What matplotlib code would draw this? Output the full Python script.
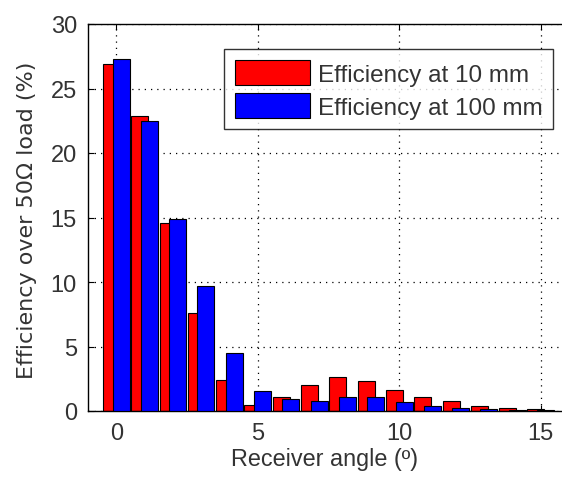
import numpy as np
import matplotlib
matplotlib.use('Agg')
import matplotlib.pyplot as plt

# receiver angle (deg) and efficiency (%)
angle = [0, 1, 2, 3, 4, 5, 6, 7, 8, 9, 10, 11, 12, 13, 14, 15]
eff_10mm = [26.9, 22.9, 14.6, 7.6, 2.4, 0.45, 1.1, 2.0, 2.6, 2.3, 1.6, 1.1, 0.8, 0.35, 0.2, 0.15]
eff_100mm = [27.3, 22.5, 14.9, 9.7, 4.5, 1.55, 0.95, 0.8, 1.1, 1.1, 0.7, 0.35, 0.2, 0.15, 0.1, 0.1]

plt.rcParams['font.family'] = ['Liberation Sans', 'DejaVu Sans']
txt = '#333333'

fig = plt.figure(figsize=(5.62, 4.81), dpi=100)
ax = fig.add_axes([88/562, 1-412/481, (569-88)/562, (412-25)/481])

x = np.array(angle)
ax.bar(x-0.17, eff_10mm, width=0.6, color='#ff0000', edgecolor='black', linewidth=0.8,
       label='Efficiency at 10 mm', zorder=2)
ax.bar(x+0.17, eff_100mm, width=0.6, color='#0000ff', edgecolor='black', linewidth=0.8,
       label='Efficiency at 100 mm', zorder=3)

ax.set_xlim(-1, 16)
ax.set_ylim(0, 30)
ax.set_xticks([0, 5, 10, 15])
ax.set_yticks([0, 5, 10, 15, 20, 25, 30])
ax.grid(True, linestyle=(0, (1, 4)), color='black', linewidth=0.9)
ax.set_axisbelow(True)
ax.tick_params(direction='in', top=True, right=True, colors='black',
               labelcolor=txt, length=4, pad=8, labelsize=17)
for s in ax.spines.values():
    s.set_linewidth(1.0)

ax.set_xlabel('Receiver angle (º)', fontsize=16.8, color=txt)
ax.xaxis.set_label_coords((325-88)/481, -(448-412)/387)
ax.set_ylabel('Efficiency over 50Ω load (%)', fontsize=16, color=txt,
              family=['DejaVu Sans'])
ax.yaxis.set_label_coords(-(88-37)/481, (412-220)/387)

leg = ax.legend(loc='upper left', bbox_to_anchor=((224-88)/481, 1-(50-25)/387),
                prop={'size': 17.5}, frameon=True, fancybox=False, edgecolor='black',
                handlelength=3.1, handleheight=1.2, borderpad=0.45, labelspacing=0.3,
                handletextpad=0.3, borderaxespad=0)
leg.get_frame().set_linewidth(1.0)
for t in leg.get_texts():
    t.set_color(txt)

fig.savefig('out.png', dpi=100)
